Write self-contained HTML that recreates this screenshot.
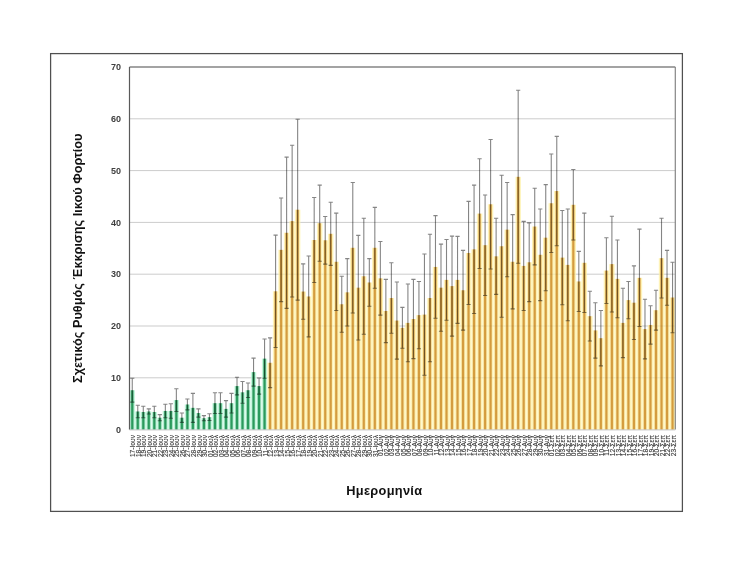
<!DOCTYPE html>
<html><head><meta charset="utf-8"><style>
html,body{margin:0;padding:0;background:#fff;}
body{width:734px;height:566px;overflow:hidden;}
svg{display:block;font-family:"Liberation Sans",sans-serif;}
.yl{font-size:9px;font-weight:bold;fill:#404040;}
.xl{font-size:7.4px;fill:#383838;stroke:#383838;stroke-width:0.12px;}
.t{font-weight:bold;fill:#111;}
</style></head><body>
<svg width="734" height="566" viewBox="0 0 734 566">
<defs>
<linearGradient id="gG" x1="0" y1="0" x2="1" y2="0">
<stop offset="0" stop-color="#d6fbe9"/><stop offset="0.15" stop-color="#c4f3dc"/><stop offset="0.40" stop-color="#2a9a5c"/><stop offset="0.60" stop-color="#2a9a5c"/><stop offset="0.85" stop-color="#c4f3dc"/><stop offset="1" stop-color="#d6fbe9"/>
</linearGradient>
<linearGradient id="gO" x1="0" y1="0" x2="1" y2="0">
<stop offset="0" stop-color="#fff8c2"/><stop offset="0.18" stop-color="#fdf0b4"/><stop offset="0.40" stop-color="#d49c3e"/><stop offset="0.60" stop-color="#d49c3e"/><stop offset="0.82" stop-color="#fdf0b4"/><stop offset="1" stop-color="#fff8c2"/>
</linearGradient>
</defs>
<rect x="0" y="0" width="734" height="566" fill="#fff"/>
<rect x="50.6" y="53.6" width="631.8" height="457.8" fill="none" stroke="#505050" stroke-width="1.25"/>
<line x1="129.5" y1="377.80" x2="675.3" y2="377.80" stroke="#d9d9d9" stroke-width="1"/>
<line x1="129.5" y1="326.00" x2="675.3" y2="326.00" stroke="#d9d9d9" stroke-width="1"/>
<line x1="129.5" y1="274.20" x2="675.3" y2="274.20" stroke="#d9d9d9" stroke-width="1"/>
<line x1="129.5" y1="222.40" x2="675.3" y2="222.40" stroke="#d9d9d9" stroke-width="1"/>
<line x1="129.5" y1="170.60" x2="675.3" y2="170.60" stroke="#d9d9d9" stroke-width="1"/>
<line x1="129.5" y1="118.80" x2="675.3" y2="118.80" stroke="#d9d9d9" stroke-width="1"/>
<rect x="129.50" y="390.23" width="5.513" height="39.37" fill="url(#gG)"/>
<rect x="135.01" y="411.47" width="5.513" height="18.13" fill="url(#gG)"/>
<rect x="140.53" y="411.99" width="5.513" height="17.61" fill="url(#gG)"/>
<rect x="146.04" y="411.47" width="5.513" height="18.13" fill="url(#gG)"/>
<rect x="151.55" y="411.99" width="5.513" height="17.61" fill="url(#gG)"/>
<rect x="157.07" y="417.69" width="5.513" height="11.91" fill="url(#gG)"/>
<rect x="162.58" y="410.95" width="5.513" height="18.65" fill="url(#gG)"/>
<rect x="168.09" y="410.95" width="5.513" height="18.65" fill="url(#gG)"/>
<rect x="173.61" y="400.07" width="5.513" height="29.53" fill="url(#gG)"/>
<rect x="179.12" y="417.69" width="5.513" height="11.91" fill="url(#gG)"/>
<rect x="184.63" y="404.48" width="5.513" height="25.12" fill="url(#gG)"/>
<rect x="190.14" y="407.84" width="5.513" height="21.76" fill="url(#gG)"/>
<rect x="195.66" y="413.02" width="5.513" height="16.58" fill="url(#gG)"/>
<rect x="201.17" y="418.20" width="5.513" height="11.40" fill="url(#gG)"/>
<rect x="206.68" y="417.17" width="5.513" height="12.43" fill="url(#gG)"/>
<rect x="212.20" y="403.18" width="5.513" height="26.42" fill="url(#gG)"/>
<rect x="217.71" y="403.18" width="5.513" height="26.42" fill="url(#gG)"/>
<rect x="223.22" y="408.88" width="5.513" height="20.72" fill="url(#gG)"/>
<rect x="228.74" y="403.18" width="5.513" height="26.42" fill="url(#gG)"/>
<rect x="234.25" y="386.09" width="5.513" height="43.51" fill="url(#gG)"/>
<rect x="239.76" y="392.30" width="5.513" height="37.30" fill="url(#gG)"/>
<rect x="245.28" y="390.23" width="5.513" height="39.37" fill="url(#gG)"/>
<rect x="250.79" y="372.10" width="5.513" height="57.50" fill="url(#gG)"/>
<rect x="256.30" y="386.09" width="5.513" height="43.51" fill="url(#gG)"/>
<rect x="261.82" y="358.63" width="5.513" height="70.97" fill="url(#gG)"/>
<rect x="267.33" y="362.78" width="5.513" height="66.82" fill="url(#gO)"/>
<rect x="272.84" y="291.29" width="5.513" height="138.31" fill="url(#gO)"/>
<rect x="278.35" y="249.85" width="5.513" height="179.75" fill="url(#gO)"/>
<rect x="283.87" y="232.76" width="5.513" height="196.84" fill="url(#gO)"/>
<rect x="289.38" y="221.10" width="5.513" height="208.50" fill="url(#gO)"/>
<rect x="294.89" y="209.71" width="5.513" height="219.89" fill="url(#gO)"/>
<rect x="300.41" y="291.55" width="5.513" height="138.05" fill="url(#gO)"/>
<rect x="305.92" y="296.47" width="5.513" height="133.13" fill="url(#gO)"/>
<rect x="311.43" y="240.01" width="5.513" height="189.59" fill="url(#gO)"/>
<rect x="316.95" y="223.18" width="5.513" height="206.42" fill="url(#gO)"/>
<rect x="322.46" y="240.27" width="5.513" height="189.33" fill="url(#gO)"/>
<rect x="327.97" y="233.80" width="5.513" height="195.80" fill="url(#gO)"/>
<rect x="333.49" y="261.77" width="5.513" height="167.83" fill="url(#gO)"/>
<rect x="339.00" y="304.24" width="5.513" height="125.36" fill="url(#gO)"/>
<rect x="344.51" y="292.33" width="5.513" height="137.27" fill="url(#gO)"/>
<rect x="350.03" y="247.78" width="5.513" height="181.82" fill="url(#gO)"/>
<rect x="355.54" y="287.67" width="5.513" height="141.93" fill="url(#gO)"/>
<rect x="361.05" y="276.27" width="5.513" height="153.33" fill="url(#gO)"/>
<rect x="366.56" y="282.49" width="5.513" height="147.11" fill="url(#gO)"/>
<rect x="372.08" y="247.78" width="5.513" height="181.82" fill="url(#gO)"/>
<rect x="377.59" y="278.34" width="5.513" height="151.26" fill="url(#gO)"/>
<rect x="383.10" y="310.98" width="5.513" height="118.62" fill="url(#gO)"/>
<rect x="388.62" y="298.03" width="5.513" height="131.57" fill="url(#gO)"/>
<rect x="394.13" y="320.56" width="5.513" height="109.04" fill="url(#gO)"/>
<rect x="399.64" y="327.81" width="5.513" height="101.79" fill="url(#gO)"/>
<rect x="405.16" y="322.89" width="5.513" height="106.71" fill="url(#gO)"/>
<rect x="410.67" y="319.01" width="5.513" height="110.59" fill="url(#gO)"/>
<rect x="416.18" y="315.12" width="5.513" height="114.48" fill="url(#gO)"/>
<rect x="421.70" y="314.60" width="5.513" height="115.00" fill="url(#gO)"/>
<rect x="427.21" y="298.03" width="5.513" height="131.57" fill="url(#gO)"/>
<rect x="432.72" y="266.95" width="5.513" height="162.65" fill="url(#gO)"/>
<rect x="438.24" y="287.67" width="5.513" height="141.93" fill="url(#gO)"/>
<rect x="443.75" y="279.90" width="5.513" height="149.70" fill="url(#gO)"/>
<rect x="449.26" y="286.11" width="5.513" height="143.49" fill="url(#gO)"/>
<rect x="454.77" y="279.90" width="5.513" height="149.70" fill="url(#gO)"/>
<rect x="460.29" y="290.26" width="5.513" height="139.34" fill="url(#gO)"/>
<rect x="465.80" y="252.96" width="5.513" height="176.64" fill="url(#gO)"/>
<rect x="471.31" y="249.34" width="5.513" height="180.26" fill="url(#gO)"/>
<rect x="476.83" y="213.59" width="5.513" height="216.01" fill="url(#gO)"/>
<rect x="482.34" y="245.19" width="5.513" height="184.41" fill="url(#gO)"/>
<rect x="487.85" y="204.27" width="5.513" height="225.33" fill="url(#gO)"/>
<rect x="493.37" y="256.33" width="5.513" height="173.27" fill="url(#gO)"/>
<rect x="498.88" y="246.23" width="5.513" height="183.37" fill="url(#gO)"/>
<rect x="504.39" y="229.65" width="5.513" height="199.95" fill="url(#gO)"/>
<rect x="509.91" y="261.77" width="5.513" height="167.83" fill="url(#gO)"/>
<rect x="515.42" y="176.82" width="5.513" height="252.78" fill="url(#gO)"/>
<rect x="520.93" y="265.91" width="5.513" height="163.69" fill="url(#gO)"/>
<rect x="526.45" y="262.29" width="5.513" height="167.31" fill="url(#gO)"/>
<rect x="531.96" y="226.54" width="5.513" height="203.06" fill="url(#gO)"/>
<rect x="537.47" y="254.78" width="5.513" height="174.82" fill="url(#gO)"/>
<rect x="542.98" y="237.68" width="5.513" height="191.92" fill="url(#gO)"/>
<rect x="548.50" y="203.23" width="5.513" height="226.37" fill="url(#gO)"/>
<rect x="554.01" y="191.06" width="5.513" height="238.54" fill="url(#gO)"/>
<rect x="559.52" y="257.62" width="5.513" height="171.98" fill="url(#gO)"/>
<rect x="565.04" y="264.88" width="5.513" height="164.72" fill="url(#gO)"/>
<rect x="570.55" y="204.79" width="5.513" height="224.81" fill="url(#gO)"/>
<rect x="576.06" y="281.45" width="5.513" height="148.15" fill="url(#gO)"/>
<rect x="581.58" y="262.80" width="5.513" height="166.80" fill="url(#gO)"/>
<rect x="587.09" y="316.16" width="5.513" height="113.44" fill="url(#gO)"/>
<rect x="592.60" y="330.40" width="5.513" height="99.20" fill="url(#gO)"/>
<rect x="598.12" y="338.17" width="5.513" height="91.43" fill="url(#gO)"/>
<rect x="603.63" y="270.57" width="5.513" height="159.03" fill="url(#gO)"/>
<rect x="609.14" y="264.10" width="5.513" height="165.50" fill="url(#gO)"/>
<rect x="614.66" y="278.86" width="5.513" height="150.74" fill="url(#gO)"/>
<rect x="620.17" y="322.89" width="5.513" height="106.71" fill="url(#gO)"/>
<rect x="625.68" y="300.10" width="5.513" height="129.50" fill="url(#gO)"/>
<rect x="631.19" y="302.69" width="5.513" height="126.91" fill="url(#gO)"/>
<rect x="636.71" y="277.83" width="5.513" height="151.77" fill="url(#gO)"/>
<rect x="642.22" y="329.11" width="5.513" height="100.49" fill="url(#gO)"/>
<rect x="647.73" y="324.96" width="5.513" height="104.64" fill="url(#gO)"/>
<rect x="653.25" y="310.20" width="5.513" height="119.40" fill="url(#gO)"/>
<rect x="658.76" y="258.14" width="5.513" height="171.46" fill="url(#gO)"/>
<rect x="664.27" y="277.83" width="5.513" height="151.77" fill="url(#gO)"/>
<rect x="669.79" y="297.51" width="5.513" height="132.09" fill="url(#gO)"/>
<line x1="129.5" y1="377.80" x2="675.3" y2="377.80" stroke="#000" stroke-opacity="0.06" stroke-width="1"/>
<line x1="129.5" y1="326.00" x2="675.3" y2="326.00" stroke="#000" stroke-opacity="0.06" stroke-width="1"/>
<line x1="129.5" y1="274.20" x2="675.3" y2="274.20" stroke="#000" stroke-opacity="0.06" stroke-width="1"/>
<line x1="129.5" y1="222.40" x2="675.3" y2="222.40" stroke="#000" stroke-opacity="0.06" stroke-width="1"/>
<line x1="129.5" y1="170.60" x2="675.3" y2="170.60" stroke="#000" stroke-opacity="0.06" stroke-width="1"/>
<line x1="129.5" y1="118.80" x2="675.3" y2="118.80" stroke="#000" stroke-opacity="0.06" stroke-width="1"/>
<path d="M132.26 378.32V402.15M130.16 378.32h4.2M130.16 402.15h4.2M137.77 405.25V417.69M135.67 405.25h4.2M135.67 417.69h4.2M143.28 406.29V417.69M141.18 406.29h4.2M141.18 417.69h4.2M148.80 408.88V414.06M146.70 408.88h4.2M146.70 414.06h4.2M154.31 406.29V417.69M152.21 406.29h4.2M152.21 417.69h4.2M159.82 414.58V420.79M157.72 414.58h4.2M157.72 420.79h4.2M165.34 404.22V417.69M163.24 404.22h4.2M163.24 417.69h4.2M170.85 403.70V418.20M168.75 403.70h4.2M168.75 418.20h4.2M176.36 388.68V411.47M174.26 388.68h4.2M174.26 411.47h4.2M181.87 413.02V422.35M179.77 413.02h4.2M179.77 422.35h4.2M187.39 399.04V409.92M185.29 399.04h4.2M185.29 409.92h4.2M192.90 393.34V422.35M190.80 393.34h4.2M190.80 422.35h4.2M198.41 408.88V417.17M196.31 408.88h4.2M196.31 417.17h4.2M203.93 415.61V420.79M201.83 415.61h4.2M201.83 420.79h4.2M209.44 413.80V420.54M207.34 413.80h4.2M207.34 420.54h4.2M214.95 392.82V413.54M212.85 392.82h4.2M212.85 413.54h4.2M220.47 392.82V413.54M218.37 392.82h4.2M218.37 413.54h4.2M225.98 400.59V417.17M223.88 400.59h4.2M223.88 417.17h4.2M231.49 393.34V413.02M229.39 393.34h4.2M229.39 413.02h4.2M237.01 377.28V394.89M234.91 377.28h4.2M234.91 394.89h4.2M242.52 381.43V403.18M240.42 381.43h4.2M240.42 403.18h4.2M248.03 382.98V397.48M245.93 382.98h4.2M245.93 397.48h4.2M253.55 358.12V386.09M251.45 358.12h4.2M251.45 386.09h4.2M259.06 378.06V394.12M256.96 378.06h4.2M256.96 394.12h4.2M264.57 338.95V378.32M262.47 338.95h4.2M262.47 378.32h4.2M270.08 337.91V387.64M267.98 337.91h4.2M267.98 387.64h4.2M275.60 235.09V347.50M273.50 235.09h4.2M273.50 347.50h4.2M281.11 198.05V301.65M279.01 198.05h4.2M279.01 301.65h4.2M286.62 157.13V308.39M284.52 157.13h4.2M284.52 308.39h4.2M292.14 145.22V296.99M290.04 145.22h4.2M290.04 296.99h4.2M297.65 119.32V300.10M295.55 119.32h4.2M295.55 300.10h4.2M303.16 263.84V319.27M301.06 263.84h4.2M301.06 319.27h4.2M308.68 256.07V336.88M306.58 256.07h4.2M306.58 336.88h4.2M314.19 197.54V282.49M312.09 197.54h4.2M312.09 282.49h4.2M319.70 185.10V261.25M317.60 185.10h4.2M317.60 261.25h4.2M325.22 216.44V264.10M323.12 216.44h4.2M323.12 264.10h4.2M330.73 202.20V265.39M328.63 202.20h4.2M328.63 265.39h4.2M336.24 213.08V310.46M334.14 213.08h4.2M334.14 310.46h4.2M341.76 276.27V332.22M339.66 276.27h4.2M339.66 332.22h4.2M347.27 258.66V326.00M345.17 258.66h4.2M345.17 326.00h4.2M352.78 182.51V313.05M350.68 182.51h4.2M350.68 313.05h4.2M358.29 235.35V339.99M356.19 235.35h4.2M356.19 339.99h4.2M363.81 218.26V334.29M361.71 218.26h4.2M361.71 334.29h4.2M369.32 258.66V306.32M367.22 258.66h4.2M367.22 306.32h4.2M374.83 207.38V288.19M372.73 207.38h4.2M372.73 288.19h4.2M380.35 241.57V315.12M378.25 241.57h4.2M378.25 315.12h4.2M385.86 279.38V342.58M383.76 279.38h4.2M383.76 342.58h4.2M391.37 262.80V333.25M389.27 262.80h4.2M389.27 333.25h4.2M396.89 281.97V359.15M394.79 281.97h4.2M394.79 359.15h4.2M402.40 307.35V348.27M400.30 307.35h4.2M400.30 348.27h4.2M407.91 284.04V361.74M405.81 284.04h4.2M405.81 361.74h4.2M413.43 279.38V358.63M411.33 279.38h4.2M411.33 358.63h4.2M418.94 281.45V348.79M416.84 281.45h4.2M416.84 348.79h4.2M424.45 254.00V375.21M422.35 254.00h4.2M422.35 375.21h4.2M429.97 234.31V361.74M427.87 234.31h4.2M427.87 361.74h4.2M435.48 215.67V318.23M433.38 215.67h4.2M433.38 318.23h4.2M440.99 244.16V331.18M438.89 244.16h4.2M438.89 331.18h4.2M446.51 239.49V320.30M444.41 239.49h4.2M444.41 320.30h4.2M452.02 236.13V336.10M449.92 236.13h4.2M449.92 336.10h4.2M457.53 236.39V323.41M455.43 236.39h4.2M455.43 323.41h4.2M463.04 250.37V330.14M460.94 250.37h4.2M460.94 330.14h4.2M468.56 201.42V304.50M466.46 201.42h4.2M466.46 304.50h4.2M474.07 185.10V313.57M471.97 185.10h4.2M471.97 313.57h4.2M479.58 158.69V268.50M477.48 158.69h4.2M477.48 268.50h4.2M485.10 194.95V295.44M483.00 194.95h4.2M483.00 295.44h4.2M490.61 139.52V269.02M488.51 139.52h4.2M488.51 269.02h4.2M496.12 218.26V294.40M494.02 218.26h4.2M494.02 294.40h4.2M501.64 175.26V317.19M499.54 175.26h4.2M499.54 317.19h4.2M507.15 182.51V276.79M505.05 182.51h4.2M505.05 276.79h4.2M512.66 214.63V308.91M510.56 214.63h4.2M510.56 308.91h4.2M518.18 90.31V263.32M516.08 90.31h4.2M516.08 263.32h4.2M523.69 221.36V310.46M521.59 221.36h4.2M521.59 310.46h4.2M529.20 222.92V301.65M527.10 222.92h4.2M527.10 301.65h4.2M534.72 188.21V264.88M532.62 188.21h4.2M532.62 264.88h4.2M540.23 208.93V300.62M538.13 208.93h4.2M538.13 300.62h4.2M545.74 184.59V290.78M543.64 184.59h4.2M543.64 290.78h4.2M551.25 154.02V252.44M549.15 154.02h4.2M549.15 252.44h4.2M556.77 136.41V245.71M554.67 136.41h4.2M554.67 245.71h4.2M562.28 210.49V304.76M560.18 210.49h4.2M560.18 304.76h4.2M567.79 208.93V320.82M565.69 208.93h4.2M565.69 320.82h4.2M573.31 169.56V240.01M571.21 169.56h4.2M571.21 240.01h4.2M578.82 251.41V311.50M576.72 251.41h4.2M576.72 311.50h4.2M584.33 213.08V312.53M582.23 213.08h4.2M582.23 312.53h4.2M589.85 291.29V341.02M587.75 291.29h4.2M587.75 341.02h4.2M595.36 302.69V358.12M593.26 302.69h4.2M593.26 358.12h4.2M600.87 310.46V365.89M598.77 310.46h4.2M598.77 365.89h4.2M606.39 237.68V303.47M604.29 237.68h4.2M604.29 303.47h4.2M611.90 216.18V312.01M609.80 216.18h4.2M609.80 312.01h4.2M617.41 240.01V317.71M615.31 240.01h4.2M615.31 317.71h4.2M622.93 288.19V357.60M620.83 288.19h4.2M620.83 357.60h4.2M628.44 281.45V318.75M626.34 281.45h4.2M626.34 318.75h4.2M633.95 265.91V339.47M631.85 265.91h4.2M631.85 339.47h4.2M639.46 229.13V326.52M637.36 229.13h4.2M637.36 326.52h4.2M644.98 299.32V358.89M642.88 299.32h4.2M642.88 358.89h4.2M650.49 305.80V344.13M648.39 305.80h4.2M648.39 344.13h4.2M656.00 290.26V330.14M653.90 290.26h4.2M653.90 330.14h4.2M661.52 218.26V298.03M659.42 218.26h4.2M659.42 298.03h4.2M667.03 250.37V305.28M664.93 250.37h4.2M664.93 305.28h4.2M672.54 262.29V332.73M670.44 262.29h4.2M670.44 332.73h4.2" stroke="#858585" stroke-width="1.1" fill="none" style="mix-blend-mode:multiply"/>
<path d="M129.5 67.0H675.3" fill="none" stroke="#858585" stroke-width="1.4"/>
<path d="M675.3 67.0V429.6" fill="none" stroke="#858585" stroke-width="1.2"/>
<line x1="129.5" y1="429.90" x2="675.3" y2="429.90" stroke="#b8b8b8" stroke-width="0.8"/>
<line x1="129.5" y1="67.0" x2="129.5" y2="429.6" stroke="#5a5a5a" stroke-width="1.2"/>
<text x="121" y="432.80" text-anchor="end" class="yl">0</text>
<text x="121" y="381.00" text-anchor="end" class="yl">10</text>
<text x="121" y="329.20" text-anchor="end" class="yl">20</text>
<text x="121" y="277.40" text-anchor="end" class="yl">30</text>
<text x="121" y="225.60" text-anchor="end" class="yl">40</text>
<text x="121" y="173.80" text-anchor="end" class="yl">50</text>
<text x="121" y="122.00" text-anchor="end" class="yl">60</text>
<text x="121" y="70.20" text-anchor="end" class="yl">70</text>
<text transform="translate(135.36,435) rotate(-90) scale(0.9,1)" text-anchor="end" class="xl">17-Ιουν</text>
<text transform="translate(140.87,435) rotate(-90) scale(0.9,1)" text-anchor="end" class="xl">18-Ιουν</text>
<text transform="translate(146.38,435) rotate(-90) scale(0.9,1)" text-anchor="end" class="xl">19-Ιουν</text>
<text transform="translate(151.90,435) rotate(-90) scale(0.9,1)" text-anchor="end" class="xl">20-Ιουν</text>
<text transform="translate(157.41,435) rotate(-90) scale(0.9,1)" text-anchor="end" class="xl">21-Ιουν</text>
<text transform="translate(162.92,435) rotate(-90) scale(0.9,1)" text-anchor="end" class="xl">22-Ιουν</text>
<text transform="translate(168.44,435) rotate(-90) scale(0.9,1)" text-anchor="end" class="xl">23-Ιουν</text>
<text transform="translate(173.95,435) rotate(-90) scale(0.9,1)" text-anchor="end" class="xl">24-Ιουν</text>
<text transform="translate(179.46,435) rotate(-90) scale(0.9,1)" text-anchor="end" class="xl">25-Ιουν</text>
<text transform="translate(184.97,435) rotate(-90) scale(0.9,1)" text-anchor="end" class="xl">26-Ιουν</text>
<text transform="translate(190.49,435) rotate(-90) scale(0.9,1)" text-anchor="end" class="xl">27-Ιουν</text>
<text transform="translate(196.00,435) rotate(-90) scale(0.9,1)" text-anchor="end" class="xl">28-Ιουν</text>
<text transform="translate(201.51,435) rotate(-90) scale(0.9,1)" text-anchor="end" class="xl">29-Ιουν</text>
<text transform="translate(207.03,435) rotate(-90) scale(0.9,1)" text-anchor="end" class="xl">30-Ιουν</text>
<text transform="translate(212.54,435) rotate(-90) scale(0.9,1)" text-anchor="end" class="xl">01-Ιουλ</text>
<text transform="translate(218.05,435) rotate(-90) scale(0.9,1)" text-anchor="end" class="xl">02-Ιουλ</text>
<text transform="translate(223.57,435) rotate(-90) scale(0.9,1)" text-anchor="end" class="xl">03-Ιουλ</text>
<text transform="translate(229.08,435) rotate(-90) scale(0.9,1)" text-anchor="end" class="xl">04-Ιουλ</text>
<text transform="translate(234.59,435) rotate(-90) scale(0.9,1)" text-anchor="end" class="xl">05-Ιουλ</text>
<text transform="translate(240.11,435) rotate(-90) scale(0.9,1)" text-anchor="end" class="xl">06-Ιουλ</text>
<text transform="translate(245.62,435) rotate(-90) scale(0.9,1)" text-anchor="end" class="xl">07-Ιουλ</text>
<text transform="translate(251.13,435) rotate(-90) scale(0.9,1)" text-anchor="end" class="xl">08-Ιουλ</text>
<text transform="translate(256.65,435) rotate(-90) scale(0.9,1)" text-anchor="end" class="xl">09-Ιουλ</text>
<text transform="translate(262.16,435) rotate(-90) scale(0.9,1)" text-anchor="end" class="xl">10-Ιουλ</text>
<text transform="translate(267.67,435) rotate(-90) scale(0.9,1)" text-anchor="end" class="xl">11-Ιουλ</text>
<text transform="translate(273.18,435) rotate(-90) scale(0.9,1)" text-anchor="end" class="xl">12-Ιουλ</text>
<text transform="translate(278.70,435) rotate(-90) scale(0.9,1)" text-anchor="end" class="xl">13-Ιουλ</text>
<text transform="translate(284.21,435) rotate(-90) scale(0.9,1)" text-anchor="end" class="xl">14-Ιουλ</text>
<text transform="translate(289.72,435) rotate(-90) scale(0.9,1)" text-anchor="end" class="xl">15-Ιουλ</text>
<text transform="translate(295.24,435) rotate(-90) scale(0.9,1)" text-anchor="end" class="xl">16-Ιουλ</text>
<text transform="translate(300.75,435) rotate(-90) scale(0.9,1)" text-anchor="end" class="xl">17-Ιουλ</text>
<text transform="translate(306.26,435) rotate(-90) scale(0.9,1)" text-anchor="end" class="xl">18-Ιουλ</text>
<text transform="translate(311.78,435) rotate(-90) scale(0.9,1)" text-anchor="end" class="xl">19-Ιουλ</text>
<text transform="translate(317.29,435) rotate(-90) scale(0.9,1)" text-anchor="end" class="xl">20-Ιουλ</text>
<text transform="translate(322.80,435) rotate(-90) scale(0.9,1)" text-anchor="end" class="xl">21-Ιουλ</text>
<text transform="translate(328.32,435) rotate(-90) scale(0.9,1)" text-anchor="end" class="xl">22-Ιουλ</text>
<text transform="translate(333.83,435) rotate(-90) scale(0.9,1)" text-anchor="end" class="xl">23-Ιουλ</text>
<text transform="translate(339.34,435) rotate(-90) scale(0.9,1)" text-anchor="end" class="xl">24-Ιουλ</text>
<text transform="translate(344.86,435) rotate(-90) scale(0.9,1)" text-anchor="end" class="xl">25-Ιουλ</text>
<text transform="translate(350.37,435) rotate(-90) scale(0.9,1)" text-anchor="end" class="xl">26-Ιουλ</text>
<text transform="translate(355.88,435) rotate(-90) scale(0.9,1)" text-anchor="end" class="xl">27-Ιουλ</text>
<text transform="translate(361.39,435) rotate(-90) scale(0.9,1)" text-anchor="end" class="xl">28-Ιουλ</text>
<text transform="translate(366.91,435) rotate(-90) scale(0.9,1)" text-anchor="end" class="xl">29-Ιουλ</text>
<text transform="translate(372.42,435) rotate(-90) scale(0.9,1)" text-anchor="end" class="xl">30-Ιουλ</text>
<text transform="translate(377.93,435) rotate(-90) scale(0.9,1)" text-anchor="end" class="xl">31-Ιουλ</text>
<text transform="translate(383.45,435) rotate(-90) scale(0.9,1)" text-anchor="end" class="xl">01-Αυγ</text>
<text transform="translate(388.96,435) rotate(-90) scale(0.9,1)" text-anchor="end" class="xl">02-Αυγ</text>
<text transform="translate(394.47,435) rotate(-90) scale(0.9,1)" text-anchor="end" class="xl">03-Αυγ</text>
<text transform="translate(399.99,435) rotate(-90) scale(0.9,1)" text-anchor="end" class="xl">04-Αυγ</text>
<text transform="translate(405.50,435) rotate(-90) scale(0.9,1)" text-anchor="end" class="xl">05-Αυγ</text>
<text transform="translate(411.01,435) rotate(-90) scale(0.9,1)" text-anchor="end" class="xl">06-Αυγ</text>
<text transform="translate(416.53,435) rotate(-90) scale(0.9,1)" text-anchor="end" class="xl">07-Αυγ</text>
<text transform="translate(422.04,435) rotate(-90) scale(0.9,1)" text-anchor="end" class="xl">08-Αυγ</text>
<text transform="translate(427.55,435) rotate(-90) scale(0.9,1)" text-anchor="end" class="xl">09-Αυγ</text>
<text transform="translate(433.07,435) rotate(-90) scale(0.9,1)" text-anchor="end" class="xl">10-Αυγ</text>
<text transform="translate(438.58,435) rotate(-90) scale(0.9,1)" text-anchor="end" class="xl">11-Αυγ</text>
<text transform="translate(444.09,435) rotate(-90) scale(0.9,1)" text-anchor="end" class="xl">12-Αυγ</text>
<text transform="translate(449.61,435) rotate(-90) scale(0.9,1)" text-anchor="end" class="xl">13-Αυγ</text>
<text transform="translate(455.12,435) rotate(-90) scale(0.9,1)" text-anchor="end" class="xl">14-Αυγ</text>
<text transform="translate(460.63,435) rotate(-90) scale(0.9,1)" text-anchor="end" class="xl">15-Αυγ</text>
<text transform="translate(466.14,435) rotate(-90) scale(0.9,1)" text-anchor="end" class="xl">16-Αυγ</text>
<text transform="translate(471.66,435) rotate(-90) scale(0.9,1)" text-anchor="end" class="xl">17-Αυγ</text>
<text transform="translate(477.17,435) rotate(-90) scale(0.9,1)" text-anchor="end" class="xl">18-Αυγ</text>
<text transform="translate(482.68,435) rotate(-90) scale(0.9,1)" text-anchor="end" class="xl">19-Αυγ</text>
<text transform="translate(488.20,435) rotate(-90) scale(0.9,1)" text-anchor="end" class="xl">20-Αυγ</text>
<text transform="translate(493.71,435) rotate(-90) scale(0.9,1)" text-anchor="end" class="xl">21-Αυγ</text>
<text transform="translate(499.22,435) rotate(-90) scale(0.9,1)" text-anchor="end" class="xl">22-Αυγ</text>
<text transform="translate(504.74,435) rotate(-90) scale(0.9,1)" text-anchor="end" class="xl">23-Αυγ</text>
<text transform="translate(510.25,435) rotate(-90) scale(0.9,1)" text-anchor="end" class="xl">24-Αυγ</text>
<text transform="translate(515.76,435) rotate(-90) scale(0.9,1)" text-anchor="end" class="xl">25-Αυγ</text>
<text transform="translate(521.28,435) rotate(-90) scale(0.9,1)" text-anchor="end" class="xl">26-Αυγ</text>
<text transform="translate(526.79,435) rotate(-90) scale(0.9,1)" text-anchor="end" class="xl">27-Αυγ</text>
<text transform="translate(532.30,435) rotate(-90) scale(0.9,1)" text-anchor="end" class="xl">28-Αυγ</text>
<text transform="translate(537.82,435) rotate(-90) scale(0.9,1)" text-anchor="end" class="xl">29-Αυγ</text>
<text transform="translate(543.33,435) rotate(-90) scale(0.9,1)" text-anchor="end" class="xl">30-Αυγ</text>
<text transform="translate(548.84,435) rotate(-90) scale(0.9,1)" text-anchor="end" class="xl">31-Αυγ</text>
<text transform="translate(554.35,435) rotate(-90) scale(0.9,1)" text-anchor="end" class="xl">01-Σεπ</text>
<text transform="translate(559.87,435) rotate(-90) scale(0.9,1)" text-anchor="end" class="xl">02-Σεπ</text>
<text transform="translate(565.38,435) rotate(-90) scale(0.9,1)" text-anchor="end" class="xl">03-Σεπ</text>
<text transform="translate(570.89,435) rotate(-90) scale(0.9,1)" text-anchor="end" class="xl">04-Σεπ</text>
<text transform="translate(576.41,435) rotate(-90) scale(0.9,1)" text-anchor="end" class="xl">05-Σεπ</text>
<text transform="translate(581.92,435) rotate(-90) scale(0.9,1)" text-anchor="end" class="xl">06-Σεπ</text>
<text transform="translate(587.43,435) rotate(-90) scale(0.9,1)" text-anchor="end" class="xl">07-Σεπ</text>
<text transform="translate(592.95,435) rotate(-90) scale(0.9,1)" text-anchor="end" class="xl">08-Σεπ</text>
<text transform="translate(598.46,435) rotate(-90) scale(0.9,1)" text-anchor="end" class="xl">09-Σεπ</text>
<text transform="translate(603.97,435) rotate(-90) scale(0.9,1)" text-anchor="end" class="xl">10-Σεπ</text>
<text transform="translate(609.49,435) rotate(-90) scale(0.9,1)" text-anchor="end" class="xl">11-Σεπ</text>
<text transform="translate(615.00,435) rotate(-90) scale(0.9,1)" text-anchor="end" class="xl">12-Σεπ</text>
<text transform="translate(620.51,435) rotate(-90) scale(0.9,1)" text-anchor="end" class="xl">13-Σεπ</text>
<text transform="translate(626.03,435) rotate(-90) scale(0.9,1)" text-anchor="end" class="xl">14-Σεπ</text>
<text transform="translate(631.54,435) rotate(-90) scale(0.9,1)" text-anchor="end" class="xl">15-Σεπ</text>
<text transform="translate(637.05,435) rotate(-90) scale(0.9,1)" text-anchor="end" class="xl">16-Σεπ</text>
<text transform="translate(642.56,435) rotate(-90) scale(0.9,1)" text-anchor="end" class="xl">17-Σεπ</text>
<text transform="translate(648.08,435) rotate(-90) scale(0.9,1)" text-anchor="end" class="xl">18-Σεπ</text>
<text transform="translate(653.59,435) rotate(-90) scale(0.9,1)" text-anchor="end" class="xl">19-Σεπ</text>
<text transform="translate(659.10,435) rotate(-90) scale(0.9,1)" text-anchor="end" class="xl">20-Σεπ</text>
<text transform="translate(664.62,435) rotate(-90) scale(0.9,1)" text-anchor="end" class="xl">21-Σεπ</text>
<text transform="translate(670.13,435) rotate(-90) scale(0.9,1)" text-anchor="end" class="xl">22-Σεπ</text>
<text transform="translate(675.64,435) rotate(-90) scale(0.9,1)" text-anchor="end" class="xl">23-Σεπ</text>
<text class="t" font-size="12.75" transform="translate(82.3,383) rotate(-90)">Σχετικός Ρυθμός Έκκρισης Ιικού Φορτίου</text>
<text class="t" font-size="12.8" letter-spacing="0.3" x="346.3" y="495.2">Ημερομηνία</text>
</svg>
</body></html>
